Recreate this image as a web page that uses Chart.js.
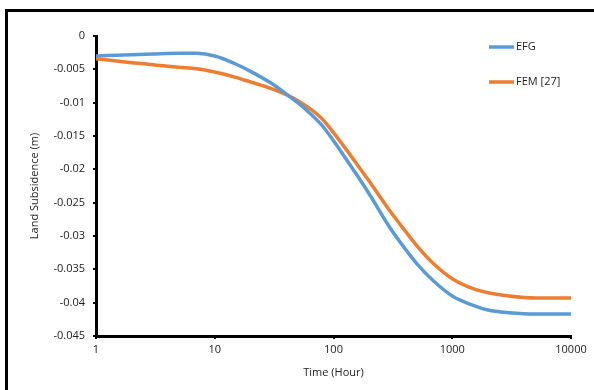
<!DOCTYPE html>
<html>
<head>
<meta charset="utf-8">
<script src="https://cdn.jsdelivr.net/npm/chart.js@4/dist/chart.umd.min.js"></script>
<style>
  body { margin: 0; background: #fff; }
  #wrap { position: relative; width: 594px; height: 390px; }
  #frame { position: absolute; left: 5px; top: 9px; width: 600px; height: 400px;
           border-left: 3px solid #000; border-top: 3px solid #000; pointer-events: none; }
</style>
</head>
<body>
<div id="wrap">
  <canvas id="myChart" width="594" height="390"></canvas>
  <div id="frame"></div>
</div>
<script>
// time in hours (log axis)
let timeHours = [1, 2, 3, 5, 7, 10, 15, 20, 30, 40, 50, 60, 80, 100, 150, 200, 300, 400, 500, 700, 1000, 1500, 2000, 3000, 5000, 10000];
let efgValues = [-0.0030, -0.0028, -0.0027, -0.0026, -0.0026, -0.0030, -0.0042, -0.0053, -0.0071, -0.0087, -0.0100, -0.0112, -0.0134,
                 -0.0157, -0.0203, -0.0237, -0.0288, -0.0319, -0.0341, -0.0368, -0.0390, -0.0404, -0.0411, -0.0415, -0.0417, -0.0417];
let femValues = [-0.0034, -0.0040, -0.0043, -0.0047, -0.0049, -0.0054, -0.0062, -0.0069, -0.0079, -0.0088, -0.0097, -0.0106, -0.0124,
                 -0.0145, -0.0187, -0.0218, -0.0263, -0.0292, -0.0314, -0.0342, -0.0364, -0.0379, -0.0385, -0.0390, -0.0393, -0.0393];
let seriesNames = ["EFG", "FEM [27]"];
let seriesColors = ["#5B9BD5", "#ED7D31"];
let xTickValues = [1, 10, 100, 1000, 10000];

let toPoints = (ys) => timeHours.map((t, i) => ({ x: t, y: ys[i] }));

// legend drawn inside the plot area, top right
let insideLegend = {
  id: "insideLegend",
  afterDraw: (chart) => {
    let ctx = chart.ctx;
    ctx.save();
    ctx.font = "11px 'Open Sans'";
    ctx.textBaseline = "middle";
    chart.data.datasets.forEach((ds, i) => {
      let y = 47 + i * 35;
      ctx.strokeStyle = ds.borderColor;
      ctx.lineWidth = 3.5;
      ctx.beginPath();
      ctx.moveTo(489, y);
      ctx.lineTo(514, y);
      ctx.stroke();
      ctx.fillStyle = "#222";
      ctx.fillText(ds.label, 516, y);
    });
    ctx.restore();
  }
};

var ctx = document.getElementById("myChart").getContext("2d");
var chart = new Chart(ctx, {
  type: "line",
  data: {
    datasets: [
      { label: seriesNames[0], data: toPoints(efgValues), borderColor: seriesColors[0], backgroundColor: seriesColors[0] },
      { label: seriesNames[1], data: toPoints(femValues), borderColor: seriesColors[1], backgroundColor: seriesColors[1] }
    ]
  },
  options: {
    responsive: false,
    animation: false,
    layout: { padding: { left: 24, top: 36, right: 23, bottom: 7 } },
    elements: {
      line: { borderWidth: 3.5, cubicInterpolationMode: "monotone", fill: false },
      point: { radius: 0 }
    },
    plugins: { legend: { display: false }, tooltip: { enabled: false } },
    scales: {
      x: {
        type: "logarithmic",
        min: 1,
        max: 10000,
        afterBuildTicks: (scale) => { scale.ticks = xTickValues.map(v => ({ value: v })); },
        afterFit: (scale) => { scale.height = 47; },
        border: { color: "#000", width: 3 },
        grid: { drawOnChartArea: false, drawTicks: true, tickLength: 3, color: "#000", lineWidth: 2 },
        ticks: { color: "#222", font: { family: "Open Sans", size: 11 }, padding: 4, maxRotation: 0,
                 callback: (v) => String(v) },
        title: { display: true, text: "Time (Hour)", color: "#222", font: { family: "Open Sans", size: 11 } }
      },
      y: {
        min: -0.045,
        max: 0,
        afterFit: (scale) => { scale.width = 72; },
        border: { color: "#000", width: 3 },
        grid: { drawOnChartArea: false, drawTicks: true, tickLength: 3, color: "#000", lineWidth: 2 },
        ticks: { stepSize: 0.005, color: "#222", font: { family: "Open Sans", size: 11 }, padding: 8,
                 callback: (v) => String(Number(v.toFixed(3))) },
        title: { display: true, text: "Land Subsidence (m)", color: "#222", font: { family: "Open Sans", size: 11 } }
      }
    }
  },
  plugins: [insideLegend]
});
</script>
</body>
</html>
